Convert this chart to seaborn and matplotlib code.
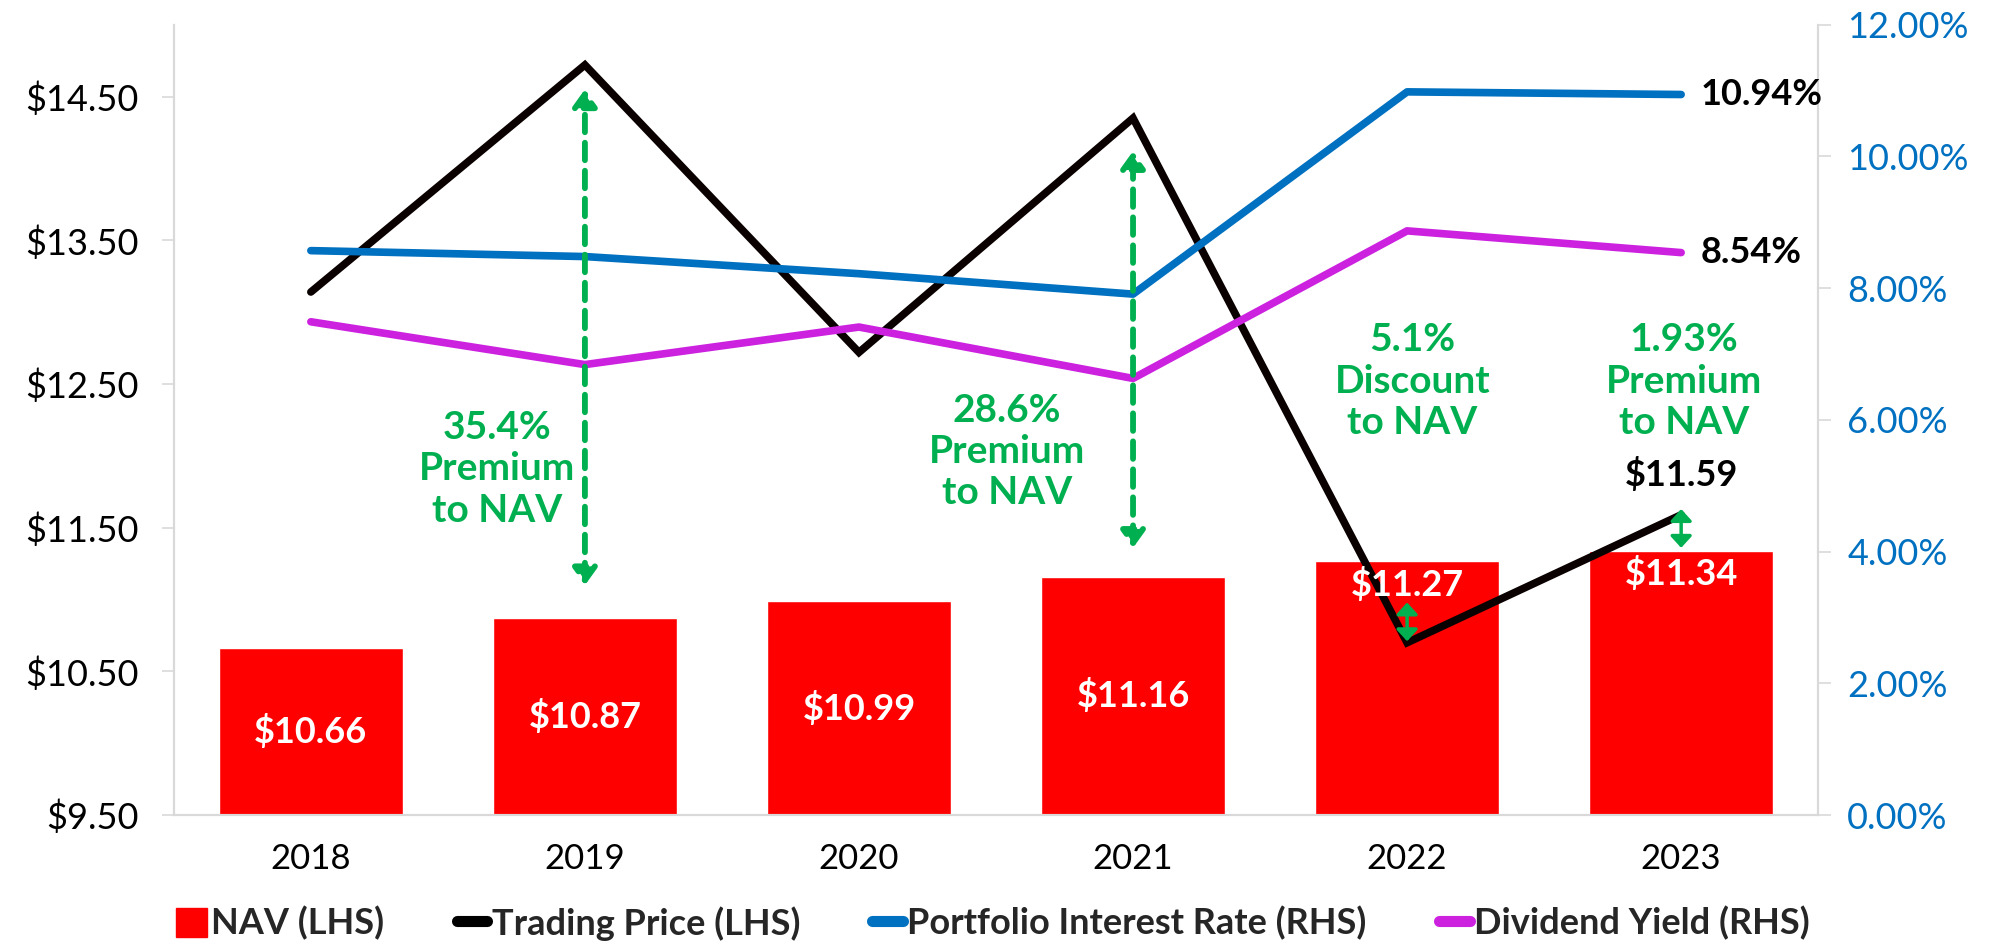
import numpy as np
import matplotlib.pyplot as plt
import seaborn as sns
from matplotlib.patches import Patch
from matplotlib.lines import Line2D

# --- data ---
years = ["2018", "2019", "2020", "2021", "2022", "2023"]
nav = [10.66, 10.87, 10.99, 11.16, 11.27, 11.34]
price = [13.14, 14.72, 12.72, 14.35, 10.70, 11.59]
interest_rate = [8.57, 8.48, 8.22, 7.91, 10.98, 10.94]
dividend_yield = [7.49, 6.84, 7.41, 6.63, 8.87, 8.54]

gap_labels = ["35.4%\nPremium\nto NAV", "28.6%\nPremium\nto NAV",
              "5.1%\nDiscount\nto NAV", "1.93%\nPremium\nto NAV"]

RED = "#FF0000"
BLUE = "#0070C0"
MAGENTA = "#CC22E0"
GREEN = "#00B050"
GRID = "#D9D9D9"

sns.set_theme(style="white")
plt.rcParams["font.family"] = ["Lato", "DejaVu Sans"]
FS = 26

fig = plt.figure(figsize=(19.98, 9.49), dpi=100)
ax = fig.add_axes([0.087, 0.141, 0.823, 0.833])
idx = np.arange(len(years))

# --- NAV bars (LHS) ---
sns.barplot(x=years, y=nav, color=RED, saturation=1, width=0.67, ax=ax, zorder=2)
sns.lineplot(x=idx, y=price, color="#0A0000", lw=5.5, ax=ax, zorder=3,
             solid_capstyle="round", solid_joinstyle="miter")
ax.set_xlim(-0.5, 5.5)
ax.set_ylim(9.5, 15.0)
ax.set_yticks(np.arange(9.5, 14.6, 1.0))
ax.set_yticklabels([f"${v:.2f}" for v in np.arange(9.5, 14.6, 1.0)])
ax.tick_params(axis="y", length=9, width=1.2, color=GRID, pad=16, labelsize=FS, labelcolor="black")
ax.tick_params(axis="x", length=0, pad=20, labelsize=25, labelcolor="black")

# bar labels
for i, v in enumerate(nav):
    if i < 4:
        ax.text(i, (9.5 + v) / 2, f"${v:.2f}", ha="center", va="center",
                color="white", fontsize=FS, fontweight="bold", zorder=5)
    else:
        ax.text(i, v - 0.04, f"${v:.2f}", ha="center", va="top",
                color="white", fontsize=FS, fontweight="bold", zorder=5)
ax.text(5, price[5] + 0.16, f"${price[5]:.2f}", ha="center", va="bottom",
        color="black", fontsize=FS, fontweight="bold", zorder=5)

# --- RHS lines ---
ax2 = ax.twinx()
sns.lineplot(x=idx, y=interest_rate, color=BLUE, lw=5.5, ax=ax2, solid_capstyle="round")
sns.lineplot(x=idx, y=dividend_yield, color=MAGENTA, lw=5.5, ax=ax2, solid_capstyle="round")
ax2.set_ylim(0, 12)
ax2.set_yticks(np.arange(0, 12.1, 2))
ax2.set_yticklabels([f"{v:.2f}%" for v in np.arange(0, 12.1, 2)])
ax2.tick_params(axis="y", length=9, width=1.2, color=GRID, pad=12, labelsize=FS, labelcolor=BLUE)
ax2.set_ylabel("")
ax2.text(5.07, interest_rate[5], f"{interest_rate[5]:.2f}%", ha="left", va="center",
         fontsize=FS, fontweight="bold", color="black")
ax2.text(5.07, dividend_yield[5], f"{dividend_yield[5]:.2f}%", ha="left", va="center",
         fontsize=FS, fontweight="bold", color="black")

for a in (ax, ax2):
    a.spines["top"].set_visible(False)
    for side in ("left", "right", "bottom"):
        a.spines[side].set_color(GRID)
        a.spines[side].set_linewidth(1.5)
    a.grid(False)

# --- premium / discount annotations (drawn on top) ---
text_pos = [(0.68, 11.91), (2.54, 12.03), (4.02, 12.52), (5.01, 12.52)]
for (tx, ty), lab in zip(text_pos, gap_labels):
    ax2.text(tx, ty, lab, transform=ax.transData, ha="center", va="center",
             color=GREEN, fontsize=28, fontweight="bold", linespacing=1.22)

# long dashed arrows
for x, y0, y1 in [(1, 11.10, 14.55), (3, 11.36, 14.12)]:
    ax2.annotate("", xy=(x, y1), xytext=(x, y0), xycoords=ax.transData,
                 textcoords=ax.transData,
                 arrowprops=dict(arrowstyle="<|-|>,head_length=0.5,head_width=0.36",
                                 mutation_scale=20, color=GREEN, lw=4.2, ls=(0, (3, 1.8)),
                                 shrinkA=0, shrinkB=0))
# short solid arrows
for x, y0, y1 in [(4, 10.71, 10.98), (5, 11.36, 11.63)]:
    ax2.annotate("", xy=(x, y1), xytext=(x, y0), xycoords=ax.transData,
                 textcoords=ax.transData,
                 arrowprops=dict(arrowstyle="<|-|>,head_length=0.35,head_width=0.32",
                                 mutation_scale=20, color=GREEN, lw=2.5,
                                 shrinkA=0, shrinkB=0))

# --- legend ---
handles = [Patch(facecolor=RED, edgecolor=RED),
           Line2D([0], [0], color="black", lw=8, solid_capstyle="round"),
           Line2D([0], [0], color=BLUE, lw=8, solid_capstyle="round"),
           Line2D([0], [0], color=MAGENTA, lw=8, solid_capstyle="round")]
labels = ["NAV (LHS)", "Trading Price (LHS)", "Portfolio Interest Rate (RHS)", "Dividend Yield (RHS)"]
fig.legend(handles, labels, loc="center", bbox_to_anchor=(0.497, 0.027), ncol=4,
           frameon=False, handlelength=0.85, handleheight=0.85, handletextpad=0.12,
           columnspacing=2.0, prop={"size": 26, "weight": "bold"})

fig.savefig("out.png", dpi=100)
